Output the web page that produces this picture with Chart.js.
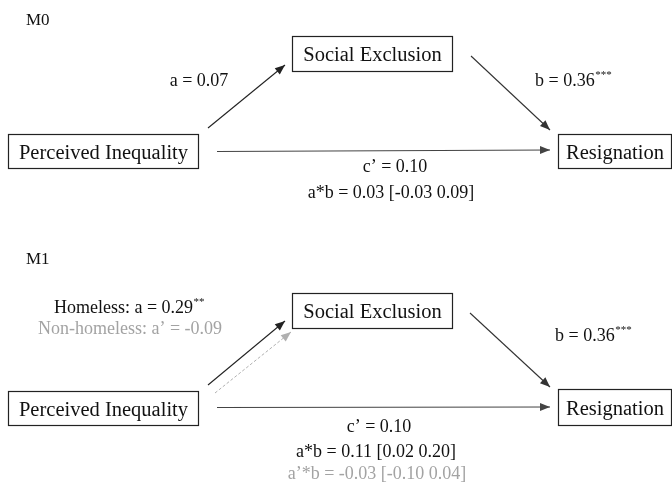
<!DOCTYPE html>
<html>
<head>
<meta charset="utf-8">
<script src="https://cdn.jsdelivr.net/npm/chart.js@4"></script>
<style>
  html, body { margin: 0; padding: 0; background: #fff; }
  canvas { display: block; }
</style>
</head>
<body>
<canvas id="pathChart" width="672" height="486"></canvas>
<script>
// model content
const models = ['M0', 'M1'];
const nodeNames = ['Perceived Inequality', 'Social Exclusion', 'Resignation'];
const pathA = ['a = 0.07', 'Homeless: a = 0.29'];
const pathAStars = ['', '**'];
const pathAPrime = ['', 'Non-homeless: a\u2019 = -0.09'];
const pathB = ['b = 0.36', 'b = 0.36'];
const pathBStars = ['***', '***'];
const pathC = ['c\u2019 = 0.10', 'c\u2019 = 0.10'];
const indirect = ['a*b = 0.03 [-0.03 0.09]', 'a*b = 0.11 [0.02 0.20]'];
const indirectPrime = ['', 'a\u2019*b = -0.03 [-0.10 0.04]'];

// layout in diagram units (x 0..672, y 0..486 top-down)
const layout = [
  {
    title: [26, 25],
    boxes: [[8, 134, 198, 168], [292, 36, 452, 71], [558, 134, 671, 168]],
    arrowA: [[208, 128], [285, 65]],
    arrowAPrime: null,
    arrowB: [[471, 56], [550, 130]],
    arrowC: [[217, 151.5], [550, 150]],
    labA: [199, 86], labAPrime: null,
    labB: [535, 86],
    labC: [395, 172],
    labInd: [391, 198], labIndPrime: null
  },
  {
    title: [26, 264],
    boxes: [[8, 391, 198, 425], [292, 293, 452, 328], [558, 389, 671, 425]],
    arrowA: [[208, 385], [285, 321]],
    arrowAPrime: [[215, 393], [291, 332]],
    arrowB: [[470, 313], [550, 387]],
    arrowC: [[217, 407.5], [550, 407]],
    labA: [129, 313], labAPrime: [130, 334],
    labB: [555, 341],
    labC: [379, 432],
    labInd: [376, 457], labIndPrime: [377, 479]
  }
];

const SERIF = '"Liberation Serif", "Times New Roman", serif';
const GREY = '#a3a3a3';

function arrowDataset(seg, color, dash) {
  return {
    type: 'line',
    data: seg.map(p => ({ x: p[0], y: p[1] })),
    borderColor: color,
    backgroundColor: color,
    borderWidth: dash ? 1 : 1.1,
    borderDash: dash || [],
    pointRadius: 0,
    tension: 0,
    fill: false
  };
}

const datasets = [];
layout.forEach(l => {
  datasets.push(arrowDataset(l.arrowA, '#222'));
  if (l.arrowAPrime) datasets.push(arrowDataset(l.arrowAPrime, '#b0b0b0', [3, 2]));
  datasets.push(arrowDataset(l.arrowB, '#333'));
  datasets.push(arrowDataset(l.arrowC, '#444'));
});

function drawText(ctx, str, x, y, size, color, align, sup) {
  ctx.save();
  ctx.fillStyle = color;
  ctx.textBaseline = 'alphabetic';
  ctx.textAlign = 'left';
  ctx.font = size + 'px ' + SERIF;
  const w1 = ctx.measureText(str).width;
  let w2 = 0;
  const supSize = Math.round(size * 0.6);
  if (sup) {
    ctx.font = supSize + 'px ' + SERIF;
    w2 = ctx.measureText(sup).width;
  }
  let x0 = x;
  if (align === 'center') x0 = x - (w1 + w2) / 2;
  ctx.font = size + 'px ' + SERIF;
  ctx.fillText(str, x0, y);
  if (sup) {
    ctx.font = supSize + 'px ' + SERIF;
    ctx.fillText(sup, x0 + w1 + 0.5, y - size * 0.42);
  }
  ctx.restore();
}

const diagramPlugin = {
  id: 'diagram',
  afterDatasetsDraw(chart) {
    const ctx = chart.ctx;
    const xs = chart.scales.x, ys = chart.scales.y;
    const px = v => xs.getPixelForValue(v);
    const py = v => ys.getPixelForValue(v);

    // arrowheads at the end of each path
    chart.data.datasets.forEach((ds, i) => {
      const pts = chart.getDatasetMeta(i).data;
      const a = pts[0], b = pts[pts.length - 1];
      const ang = Math.atan2(b.y - a.y, b.x - a.x);
      const len = 10, half = 4;
      ctx.save();
      ctx.fillStyle = ds.borderColor;
      ctx.translate(b.x, b.y);
      ctx.rotate(ang);
      ctx.beginPath();
      ctx.moveTo(0, 0);
      ctx.lineTo(-len, -half);
      ctx.lineTo(-len, half);
      ctx.closePath();
      ctx.fill();
      ctx.restore();
    });

    layout.forEach((l, m) => {
      drawText(ctx, models[m], px(l.title[0]), py(l.title[1]), 17, '#111', 'left');

      // boxes
      l.boxes.forEach((bx, k) => {
        const x1 = px(bx[0]), y1 = py(bx[1]), x2 = px(bx[2]), y2 = py(bx[3]);
        ctx.save();
        ctx.strokeStyle = '#222';
        ctx.lineWidth = 1.2;
        ctx.strokeRect(Math.round(x1) + 0.5, Math.round(y1) + 0.5, Math.round(x2 - x1), Math.round(y2 - y1));
        ctx.restore();
        drawText(ctx, nodeNames[k], (x1 + x2) / 2 + 0.5, (y1 + y2) / 2 + 7.5, 20.5, '#111', 'center');
      });

      // path labels
      drawText(ctx, pathA[m], px(l.labA[0]), py(l.labA[1]), 18, '#111', 'center', pathAStars[m]);
      if (l.labAPrime) drawText(ctx, pathAPrime[m], px(l.labAPrime[0]), py(l.labAPrime[1]), 18, GREY, 'center');
      drawText(ctx, pathB[m], px(l.labB[0]), py(l.labB[1]), 18, '#111', 'left', pathBStars[m]);
      drawText(ctx, pathC[m], px(l.labC[0]), py(l.labC[1]), 18, '#111', 'center');
      drawText(ctx, indirect[m], px(l.labInd[0]), py(l.labInd[1]), 18, '#111', 'center');
      if (l.labIndPrime) drawText(ctx, indirectPrime[m], px(l.labIndPrime[0]), py(l.labIndPrime[1]), 18, GREY, 'center');
    });
  }
};

new Chart(document.getElementById('pathChart').getContext('2d'), {
  type: 'line',
  data: { datasets },
  options: {
    responsive: false,
    animation: false,
    layout: { padding: 0 },
    scales: {
      x: { type: 'linear', min: 0, max: 672, display: false },
      y: { type: 'linear', min: 0, max: 486, reverse: true, display: false }
    },
    plugins: {
      legend: { display: false },
      tooltip: { enabled: false }
    }
  },
  plugins: [diagramPlugin]
});
</script>
</body>
</html>
